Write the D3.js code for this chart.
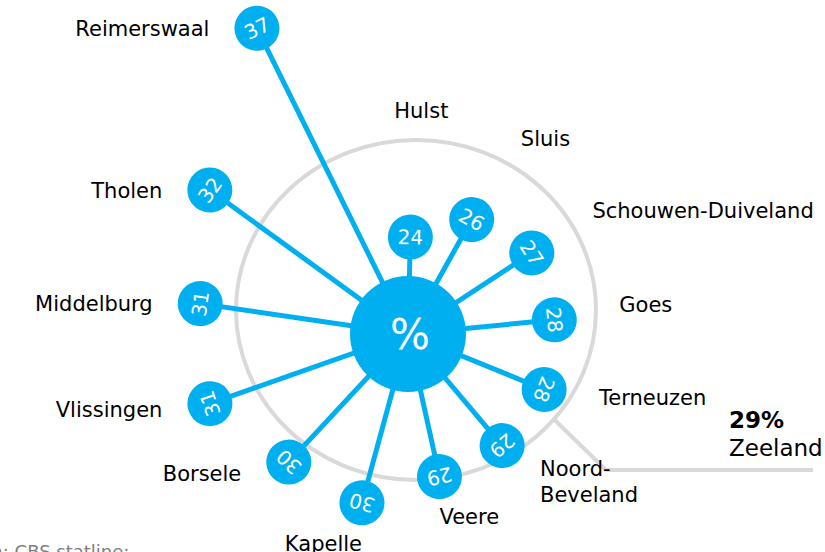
<!DOCTYPE html>
<html>
<head>
<meta charset="utf-8">
<script src="https://cdn.jsdelivr.net/npm/d3@7"></script>
<style>
  body { margin: 0; background: #fff; }
  svg { display: block; font-family: "DejaVu Sans", Verdana, sans-serif; }
</style>
</head>
<body>
<div id="chart"></div>
<script>
    // data
    gemeenten = ["Hulst", "Sluis", "Schouwen-Duiveland", "Goes", "Terneuzen", "Noord-\nBeveland",
                 "Veere", "Kapelle", "Borsele", "Vlissingen", "Middelburg", "Tholen", "Reimerswaal"]
    percentages = [24, 26, 27, 28, 28, 29, 29, 30, 30, 31, 31, 32, 37]
    provincie = "Zeeland"
    provincieWaarde = 29
    bron = "Bron: CBS statline;"

    canvas = ({width: 825, height: 552})
    hub = ({x: 408, y: 334, r: 58})
    ring = ({x: 416, y: 310, rx: 180, ry: 170})
    bubbleR = 22.5

    blue = "#00afef"
    grey = "#d9d9d9"

    data = gemeenten.map((d, i) => ({name: d, value: percentages[i]}))

    // angle (degrees, clockwise from top), evenly spread over the circle
    angle = d3.scalePoint()
        .domain(gemeenten)
        .range([1.4, 1.4 + 360 * (gemeenten.length - 1) / gemeenten.length])

    // spoke length
    radius = d3.scaleLinear()
        .domain([24, 27, 29, 30, 32, 37])
        .range([97, 148, 146, 175, 245, 341])

    rad = a => a * Math.PI / 180
    data.forEach(d => {
        d.a = angle(d.name)
        d.r = radius(d.value)
        d.x = hub.x + d.r * Math.sin(rad(d.a))
        d.y = hub.y - d.r * Math.cos(rad(d.a))
    })

    var svg = d3.select("#chart").append("svg")
        .attr("width", canvas.width)
        .attr("height", canvas.height)
        .attr("viewBox", [0, 0, canvas.width, canvas.height])

    // grey ring + connector to the Zeeland total
    svg.append("ellipse")
        .attr("cx", ring.x).attr("cy", ring.y)
        .attr("rx", ring.rx).attr("ry", ring.ry)
        .attr("fill", "none")
        .attr("stroke", grey)
        .attr("stroke-width", 4)

    var ca = rad(130)
    var cStart = [ring.x + ring.rx * Math.sin(ca), ring.y - ring.ry * Math.cos(ca)]
    svg.append("path")
        .attr("fill", "none")
        .attr("stroke", grey)
        .attr("stroke-width", 4)
        .attr("d", d3.line()([cStart, [606, 470], [813, 470]]))

    svg.append("text")
        .attr("x", 729).attr("y", 428)
        .attr("font-size", 23)
        .attr("font-weight", "bold")
        .attr("fill", "#000")
        .text(provincieWaarde + "%")

    svg.append("text")
        .attr("x", 729).attr("y", 456)
        .attr("font-size", 23)
        .attr("fill", "#000")
        .text(provincie)

    // spokes
    svg.append("g")
        .selectAll("line")
        .data(data)
        .join("line")
        .attr("x1", hub.x).attr("y1", hub.y)
        .attr("x2", d => d.x).attr("y2", d => d.y)
        .attr("stroke", blue)
        .attr("stroke-width", 5)

    // bubbles with rotated values
    var bub = svg.append("g")
        .selectAll("g")
        .data(data)
        .join("g")
        .attr("transform", d => `translate(${d.x},${d.y}) rotate(${d.a})`)

    bub.append("circle")
        .attr("r", bubbleR)
        .attr("fill", blue)

    bub.append("text")
        .attr("text-anchor", "middle")
        .attr("dy", "0.36em")
        .attr("font-size", 20)
        .attr("fill", "#fff")
        .text(d => d.value)

    // hub
    svg.append("circle")
        .attr("cx", hub.x).attr("cy", hub.y).attr("r", hub.r)
        .attr("fill", blue)

    svg.append("text")
        .attr("x", hub.x + 2).attr("y", hub.y)
        .attr("dy", "0.36em")
        .attr("text-anchor", "middle")
        .attr("font-size", 42)
        .attr("fill", "#fff")
        .text("%")

    // municipality labels
    var fs = 21, capH = 15.3, lineH = 26
    function labelPos(d) {
        var a = d.a
        if (a >= 150 && a < 210) {
            // below the bubble
            var s = Math.sin(rad(a))
            return {x: d.x, y: d.y + bubbleR + 10 + capH, anchor: s > 0 ? "start" : "end"}
        }
        if (a >= 210 && a < 345) {
            // left of the bubble, a bit lower on the lower half
            var drop = Math.max(0, -Math.cos(rad(a))) * 16
            return {x: d.x - bubbleR - 25, y: d.y + capH / 2 + drop, anchor: "end"}
        }
        // outside the grey ring
        var p = rad(a + 4 * Math.abs(Math.sin(rad(a))))
        var px = ring.x + 1.13 * ring.rx * Math.sin(p)
        var py = ring.y - 1.13 * ring.ry * Math.cos(p)
        return {
            x: px,
            y: py + capH / 2 - Math.cos(p) * capH / 2,
            anchor: Math.sin(p) > 0.3 ? "start" : "middle"
        }
    }

    svg.append("g")
        .selectAll("text")
        .data(data)
        .join("text")
        .each(function(d) {
            var pos = labelPos(d)
            var t = d3.select(this)
                .attr("text-anchor", pos.anchor)
                .attr("font-size", fs)
                .attr("fill", "#000")
            d.name.split("\n").forEach((line, i) => {
                t.append("tspan")
                    .attr("x", pos.x)
                    .attr("y", pos.y + i * lineH)
                    .text(line)
            })
        })

    // source
    svg.append("text")
        .attr("x", -39).attr("y", 558)
        .attr("font-size", 18)
        .attr("fill", "#808080")
        .text(bron)
</script>
</body>
</html>
